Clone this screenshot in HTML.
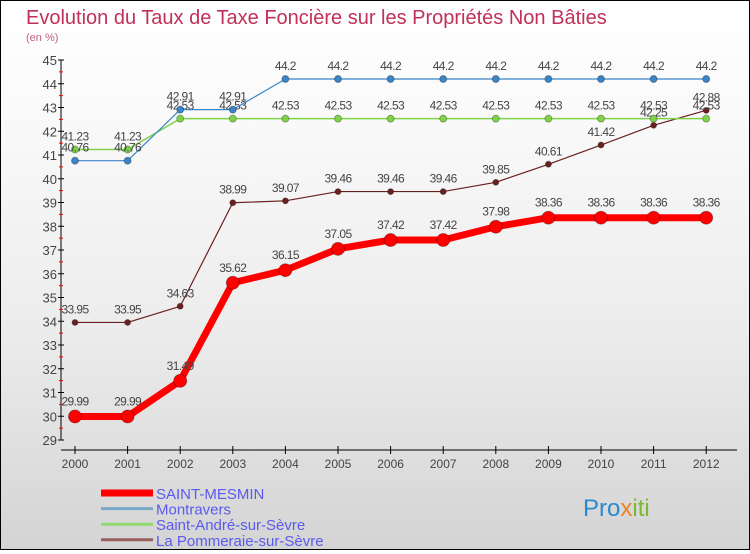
<!DOCTYPE html>
<html><head><meta charset="utf-8"><style>
html,body{margin:0;padding:0}
body{width:750px;height:550px;overflow:hidden;font-family:"Liberation Sans",sans-serif}
#wrap{position:relative;width:748px;height:548px;border:1px solid #000;background:linear-gradient(#fff,#fafafa 20%,#ececec 60%,#d4d4d4)}
</style></head><body>
<div id="wrap">
<svg id="chart" width="748" height="548" xmlns="http://www.w3.org/2000/svg">
<text x="25" y="23" font-size="20" fill="#c0305a">Evolution du Taux de Taxe Foncière sur les Propriétés Non Bâties</text>
<text x="25" y="40" font-size="11" fill="#c0607a">(en %)</text>
<g id="axes"></g><g id="series"></g><g id="legend"></g>
</svg></div>
<script>
const years=[2000,2001,2002,2003,2004,2005,2006,2007,2008,2009,2010,2011,2012];
const yTicks=[29,30,31,32,33,34,35,36,37,38,39,40,41,42,43,44,45];
const saintMesmin=[29.99,29.99,31.49,35.62,36.15,37.05,37.42,37.42,37.98,38.36,38.36,38.36,38.36];
const montravers=[40.76,40.76,42.91,42.91,44.2,44.2,44.2,44.2,44.2,44.2,44.2,44.2,44.2];
const saintAndre=[41.23,41.23,42.53,42.53,42.53,42.53,42.53,42.53,42.53,42.53,42.53,42.53,42.53];
const pommeraie=[33.95,33.95,34.63,38.99,39.07,39.46,39.46,39.46,39.85,40.61,41.42,42.25,42.88];
const seriesNames=["SAINT-MESMIN","Montravers","Saint-André-sur-Sèvre","La Pommeraie-sur-Sèvre"];
const NS="http://www.w3.org/2000/svg";
const xS=i=>74+i*52.6;
const yS=v=>439-(v-29)*23.75;
function mk(tag,attrs,parent){const e=document.createElementNS(NS,tag);for(const k in attrs)e.setAttribute(k,attrs[k]);parent.appendChild(e);return e;}
const ax=document.getElementById('axes');
let yl=mk('line',{x1:60,y1:yS(45),x2:60,y2:yS(29),stroke:'#000'},ax);


let xl=mk('line',{x1:60,y1:449,x2:736,y2:449,stroke:'#000'},ax);


yTicks.forEach(v=>{
 mk('line',{x1:57,y1:yS(v),x2:63,y2:yS(v),stroke:'#000'},ax);
 if(v<45)mk('line',{x1:58,y1:yS(v+0.5),x2:62,y2:yS(v+0.5),stroke:'#e00'},ax);
 const t=mk('text',{x:56,y:yS(v)+5,'text-anchor':'end','font-size':13,fill:'#444'},ax);t.textContent=v;
 
 
});
years.forEach((y,i)=>{
 mk('line',{x1:xS(i),y1:445,x2:xS(i),y2:453,stroke:'#000'},ax);
 const t=mk('text',{x:xS(i),y:467,'text-anchor':'middle','font-size':12,fill:'#444'},ax);t.textContent=y;
 
 
});
const sg=document.getElementById('series');
function draw(vals,color,w,r,name,labelDy){
 const g=mk('g',{},sg);
 
 
 mk('polyline',{points:vals.map((v,i)=>xS(i)+','+yS(v)).join(' '),fill:'none',stroke:color,'stroke-width':w,'stroke-linejoin':'round'},g);
 vals.forEach((v,i)=>{
  const c=mk('circle',{cx:xS(i),cy:yS(v),r:r,fill:color,stroke:'rgba(0,0,0,0.3)'},g);
  
  
  const t=mk('text',{x:xS(i),y:yS(v)+labelDy,'text-anchor':'middle','font-size':12,fill:'#444','letter-spacing':'-0.6'},g);t.textContent=v;
  
  
 });
}
draw(pommeraie,'#6b2020',1.2,3,'series-la-pommeraie',-9);
draw(saintAndre,'#7ed348',1.5,3.5,'series-saint-andre',-9);
draw(montravers,'#3a85c8',1.2,3.5,'series-montravers',-9);
draw(saintMesmin,'#f00',7,6.5,'series-saint-mesmin',-11);
const lg=document.getElementById('legend');
const lc=['#f00','#7aa8c8','#90d870','#9a6060'],lw=[7,3,3,3];
seriesNames.forEach((n,i)=>{
 const y=492+i*15.6;
 const g=mk('g',{},lg);
 
 
 mk('line',{x1:100,y1:y,x2:152,y2:y,stroke:lc[i],'stroke-width':lw[i]},g);
 const t=mk('text',{x:155,y:y+6,'font-size':15,fill:'#5a5aee'},g);t.textContent=n;
});
const logo=mk('text',{x:582,y:515,'font-size':24,fill:'#2a8ad0'},lg);
logo.innerHTML='<tspan fill="#2a8ad0">Pro</tspan><tspan fill="#f08020">x</tspan><tspan fill="#7ab830">iti</tspan>';


</script>
</body></html>
